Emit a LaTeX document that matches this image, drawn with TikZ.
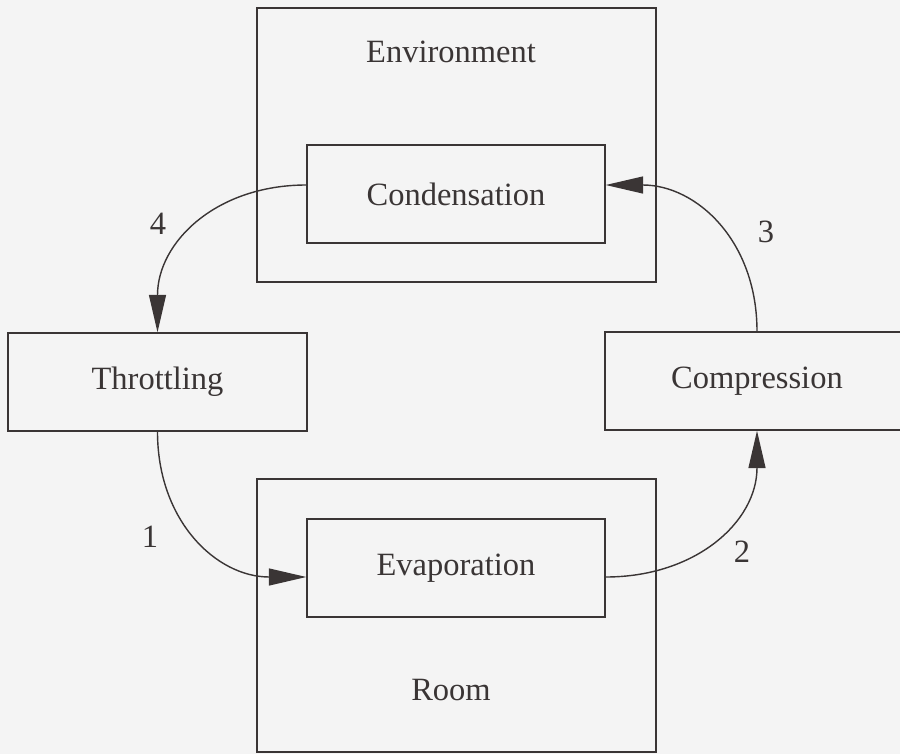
\documentclass[tikz,border=0pt]{standalone}
\usepackage{fontspec}
\setmainfont{Liberation Serif}
\usetikzlibrary{positioning,arrows.meta}
\definecolor{ink}{HTML}{3A3535}
\definecolor{paper}{HTML}{F4F4F4}

\begin{document}
\begin{tikzpicture}[x=0.02cm,y=-0.02cm,
  every node/.style={font=\fontsize{18.5}{20}\selectfont,text=ink},
  frame/.style={draw=ink,line width=0.8pt,minimum width=7.98cm},
  box/.style={draw=ink,line width=0.8pt,minimum height=1.96cm},
  flow/.style={draw=ink,line width=0.8pt,looseness=1.1,-{Triangle[length=7.5mm,width=3.4mm]}}]
  \fill[paper] (0,0) rectangle (900,754);
  \useasboundingbox (0,0) rectangle (900,754);
  \clip (0,0) rectangle (900,754);
  % surroundings
  \node[frame,minimum height=5.48cm] (env) at (456.5,145) {};
  \node[frame,minimum height=5.46cm] (room) at (456.5,615.5) {};
  \node (envlbl) at (451,52) {Environment};
  \node (roomlbl) at (451,690) {Room};
  % process steps
  \node[box,minimum width=5.96cm] (cond) at (456,194) {Condensation};
  \node[box,minimum width=5.96cm] (evap) at (456,568) {Evaporation};
  \node[box,minimum width=5.98cm] (thr) at (157.5,382) {Throttling};
  \node[box,minimum width=6.08cm] (comp) at (757,381) {Compression};
  % cycle
  \draw[flow] ([yshift=1.8mm]cond.west) to[out=180,in=90] (thr.north);
  \draw[flow] (thr.south) to[out=-90,in=180] ([yshift=-1.8mm]evap.west);
  \draw[flow] ([yshift=-1.8mm]evap.east) to[out=0,in=-90] (comp.south);
  \draw[flow] (comp.north) to[out=90,in=0] ([yshift=1.8mm]cond.east);
  \node (s1) at (150,537) {1};
  \node (s2) at (742,552) {2};
  \node (s3) at (766,232) {3};
  \node (s4) at (158,224) {4};
\end{tikzpicture}
\end{document}
